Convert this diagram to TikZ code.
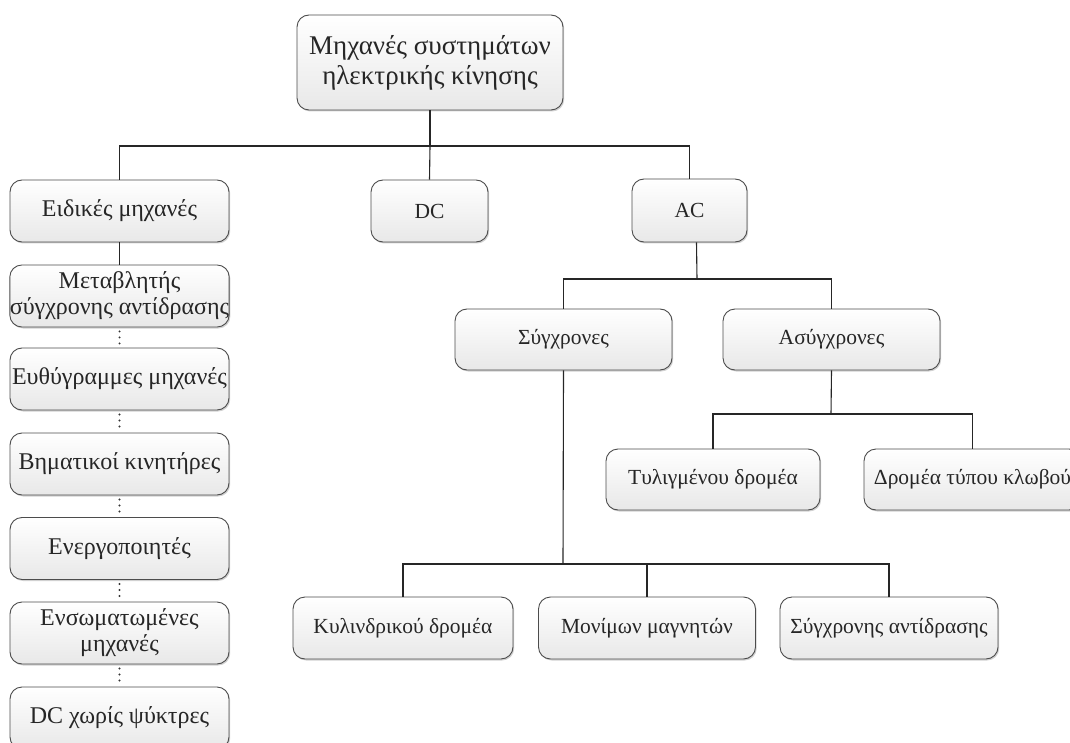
\documentclass[tikz,border=0pt]{standalone}
\usepackage{fontspec}
\setmainfont{Liberation Serif}
\usetikzlibrary{shadows}
\begin{document}
\begin{tikzpicture}[x=1pt,y=-1pt,
  box/.style={draw=black!70, line width=0.9pt, rounded corners=12pt,
    top color=white, bottom color=black!9,
    drop shadow={shadow xshift=1.2pt, shadow yshift=-1.5pt, opacity=0.18, fill=black},
    minimum width=217pt, minimum height=62pt, inner sep=0pt, align=center,
    text=black!85, font=\fontsize{21.5}{25}\selectfont},
  leftbox/.style={box, minimum width=219pt, font=\fontsize{24}{26}\selectfont},
  link/.style={draw=black!85, line width=1.1pt},
  dots/.style={draw=black!80, line width=2.1pt, line cap=round, dash pattern=on 0pt off 6pt}]
\clip (0,0) rectangle (1070,743);
\useasboundingbox (0,0) rectangle (1070,743);

% root
\node[box, minimum width=266pt, minimum height=95pt,
      font=\fontsize{27}{30}\selectfont] (root) at (430,62.5)
  {Μηχανές συστημάτων\\ηλεκτρικής κίνησης};

% first level
\node[leftbox] (eid) at (119.5,211) {Ειδικές μηχανές};
\node[box, minimum width=117pt] (dc)  at (429.5,211) {DC};
\node[box, minimum width=115pt, minimum height=63pt] (ac) at (689.5,210.5) {AC};

% special machines column
\node[leftbox] (l2) at (119.5,296)   {Μεταβλητής\\σύγχρονης αντίδρασης};
\node[leftbox] (l3) at (119.5,379)   {Ευθύγραμμες μηχανές};
\node[leftbox] (l4) at (119.5,464)   {Βηματικοί κινητήρες};
\node[leftbox] (l5) at (119.5,548.5) {Ενεργοποιητές};
\node[leftbox] (l6) at (119.5,633)   {Ενσωματωμένες\\μηχανές};
\node[leftbox] (l7) at (119.5,718)   {DC χωρίς ψύκτρες};

% AC branch
\node[box, minimum height=61pt] (syg) at (563.5,339.5) {Σύγχρονες};
\node[box, minimum height=61pt] (asy) at (831.5,339.5) {Ασύγχρονες};

\node[box, minimum width=214pt, minimum height=61pt] (tyl) at (713,479.5) {Τυλιγμένου δρομέα};
\node[box, minimum height=61pt] (dro) at (972.5,479.5) {Δρομέα τύπου κλωβού};

\node[box, minimum width=220pt] (kyl) at (403,628) {Κυλινδρικού δρομέα};
\node[box, minimum width=217pt] (mon) at (647,628) {Μονίμων μαγνητών};
\node[box, minimum width=218pt] (ant) at (889,628) {Σύγχρονης αντίδρασης};

% junction points of the tree
\coordinate (j1) at (430,146);
\coordinate (j2) at (697,279);
\coordinate (j3) at (831,414);
\coordinate (j4) at (563,564);

% connectors
\draw[link] (root.south) -- (j1);
\draw[link] (j1) -| (eid.north);
\draw[link] (j1) -- (dc.north);
\draw[link] (j1) -| (ac.north);

\draw[link] ([xshift=7pt]ac.south) -- (j2);
\draw[link] (j2) -| (syg.north);
\draw[link] (j2) -| (asy.north);

\draw[link] (asy.south) -- (j3);
\draw[link] (j3) -| (tyl.north);
\draw[link] (j3) -| (dro.north);

\draw[link] (syg.south) -- (j4);
\draw[link] (j4) -| (kyl.north);
\draw[link] (j4) -| (mon.north);
\draw[link] (j4) -| (ant.north);

\draw[link] (eid.south) -- (l2.north);
\draw[dots] ([yshift=-4pt]l2.south) -- ([yshift=4pt]l3.north);
\draw[dots] ([yshift=-4pt]l3.south) -- ([yshift=4pt]l4.north);
\draw[dots] ([yshift=-4pt]l4.south) -- ([yshift=4pt]l5.north);
\draw[dots] ([yshift=-4pt]l5.south) -- ([yshift=4pt]l6.north);
\draw[dots] ([yshift=-4pt]l6.south) -- ([yshift=4pt]l7.north);
\end{tikzpicture}
\end{document}
